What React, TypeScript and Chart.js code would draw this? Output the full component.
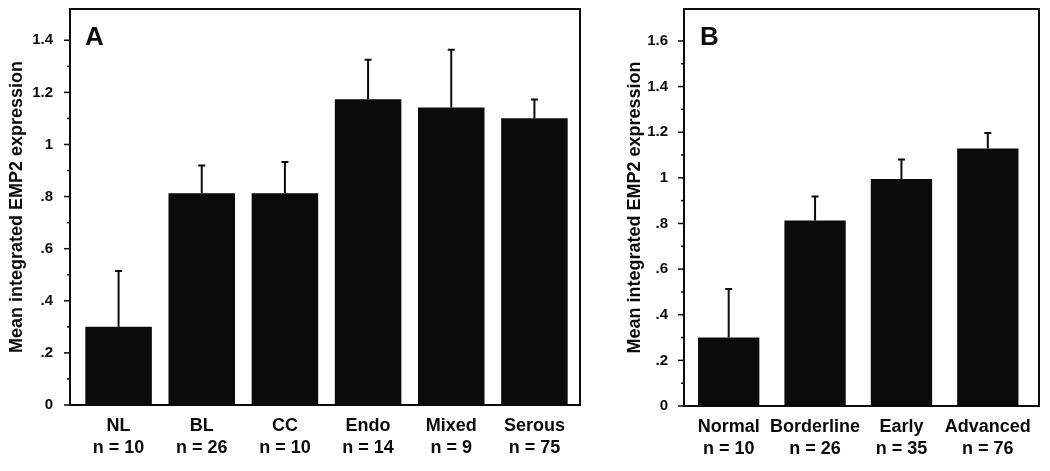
import React, { useEffect, useRef } from 'react';
import { Chart, registerables } from 'chart.js';

Chart.register(...registerables);

// ---- Data ----
const categoriesA = ['NL', 'BL', 'CC', 'Endo', 'Mixed', 'Serous'];
const countsA = [10, 26, 10, 14, 9, 75];
const meansA = [0.3, 0.813, 0.813, 1.174, 1.142, 1.101];
const errorsA = [0.214, 0.106, 0.12, 0.151, 0.222, 0.072];

const categoriesB = ['Normal', 'Borderline', 'Early', 'Advanced'];
const countsB = [10, 26, 35, 76];
const meansB = [0.3, 0.813, 0.995, 1.129];
const errorsB = [0.213, 0.105, 0.085, 0.068];

const majorTicksA = [0, 0.2, 0.4, 0.6, 0.8, 1, 1.2, 1.4];
const minorTicksA = [0.1, 0.3, 0.5, 0.7, 0.9, 1.1, 1.3];
const majorTicksB = [0, 0.2, 0.4, 0.6, 0.8, 1, 1.2, 1.4, 1.6];
const minorTicksB = [0.1, 0.3, 0.5, 0.7, 0.9, 1.1, 1.3, 1.5];

const yTitle = 'Mean integrated EMP2 expression';
const FONT = '"Liberation Sans", Arial, Helvetica, sans-serif';
const INK = '#0b0b0b';

const fmtTick = (v: number) => {
  const r = Math.round(v * 10) / 10;
  if (r === 0) return '0';
  let s = String(r);
  if (s.startsWith('0.')) s = s.slice(1);
  return s;
};

const decoPlugin = {
  id: 'panelDeco',
  afterDatasetsDraw(chart: any, _args: any, opts: any) {
    const { ctx, chartArea } = chart;
    const y = chart.scales.y;
    const meta = chart.getDatasetMeta(0);
    const means: number[] = chart.data.datasets[0].data;
    const fl = chartArea.left - opts.frameL;
    const fr = chartArea.right + opts.frameR;
    const ft = chartArea.top;
    const fb = chartArea.bottom;
    ctx.save();
    // error bars
    ctx.strokeStyle = INK;
    ctx.lineWidth = 2;
    meta.data.forEach((bar: any, i: number) => {
      const top = y.getPixelForValue(means[i] + opts.errors[i]);
      ctx.beginPath();
      ctx.moveTo(bar.x, bar.y);
      ctx.lineTo(bar.x, top);
      ctx.moveTo(bar.x - 3.5, top);
      ctx.lineTo(bar.x + 3.5, top);
      ctx.stroke();
    });
    // frame
    ctx.lineWidth = 2;
    ctx.strokeRect(fl, ft, fr - fl, fb - ft);
    // tick marks
    ctx.lineWidth = 1.5;
    opts.major.forEach((v: number) => {
      const py = y.getPixelForValue(v);
      ctx.beginPath();
      ctx.moveTo(fl - 6, py);
      ctx.lineTo(fl, py);
      ctx.stroke();
    });
    opts.minor.forEach((v: number) => {
      const py = y.getPixelForValue(v);
      ctx.beginPath();
      ctx.moveTo(fl - 3, py);
      ctx.lineTo(fl, py);
      ctx.stroke();
    });
    // panel letter
    ctx.fillStyle = INK;
    ctx.font = `bold 26px ${FONT}`;
    ctx.textAlign = 'left';
    ctx.textBaseline = 'alphabetic';
    ctx.fillText(opts.letter, fl + opts.letterDx, ft + 36);
    ctx.restore();
  },
};

function makeConfig(p: {
  categories: string[];
  counts: number[];
  means: number[];
  errors: number[];
  major: number[];
  minor: number[];
  max: number;
  letter: string;
  letterDx: number;
  axisWidth: number;
  xHeight: number;
  padLeft: number;
  padRight: number;
  barPct: number;
  labelPad: number;
  frameL: number;
  frameR: number;
}) {
  return {
    type: 'bar',
    data: {
      labels: p.categories.map((c, i) => [c, `n = ${p.counts[i]}`]),
      datasets: [
        {
          data: p.means,
          backgroundColor: INK,
          borderWidth: 0,
          barPercentage: p.barPct,
          categoryPercentage: 1,
        },
      ],
    },
    options: {
      animation: false,
      responsive: false,
      maintainAspectRatio: false,
      layout: { padding: { top: 9, right: p.padRight, left: p.padLeft, bottom: 0 } },
      plugins: {
        legend: { display: false },
        tooltip: { enabled: false },
        panelDeco: {
          errors: p.errors,
          major: p.major,
          minor: p.minor,
          letter: p.letter,
          letterDx: p.letterDx,
          frameL: p.frameL,
          frameR: p.frameR,
        },
      },
      scales: {
        x: {
          offset: true,
          grid: { display: false, drawTicks: false },
          border: { display: false },
          ticks: {
            color: INK,
            font: { family: FONT, size: 18, weight: 'bold', lineHeight: 1.17 },
            padding: 11,
            maxRotation: 0,
            autoSkip: false,
          },
          afterFit: (s: any) => {
            s.height = p.xHeight;
            s.paddingLeft = 0;
            s.paddingRight = 0;
          },
        },
        y: {
          min: 0,
          max: p.max,
          grid: { display: false, drawTicks: false },
          border: { display: false },
          afterBuildTicks: (s: any) => {
            s.ticks = p.major.map((v) => ({ value: v }));
          },
          ticks: {
            color: INK,
            font: { family: FONT, size: 15, weight: 'bold' },
            padding: p.labelPad,
            callback: (v: any) => fmtTick(Number(v)),
          },
          title: {
            display: true,
            text: yTitle,
            color: INK,
            font: { family: FONT, size: 18, weight: 'bold' },
            padding: { top: 6, bottom: 0 },
          },
          afterFit: (s: any) => {
            s.width = p.axisWidth;
            s.paddingTop = 0;
            s.paddingBottom = 0;
          },
        },
      },
    },
    plugins: [decoPlugin],
  } as any;
}

function Panel(props: { left: number; width: number; config: any }) {
  const ref = useRef<HTMLCanvasElement>(null);
  useEffect(() => {
    if (!ref.current) return;
    const chart = new Chart(ref.current, props.config);
    return () => chart.destroy();
  }, []);
  return (
    <canvas
      ref={ref}
      width={props.width}
      height={471}
      style={{ position: 'absolute', left: props.left, top: 0, width: props.width, height: 471 }}
    />
  );
}

export default function App() {
  const cfgA = makeConfig({
    categories: categoriesA,
    counts: countsA,
    means: meansA,
    errors: errorsA,
    major: majorTicksA,
    minor: minorTicksA,
    max: 1.52,
    letter: 'A',
    letterDx: 15,
    axisWidth: 77,
    xHeight: 66,
    padLeft: 0,
    padRight: 14,
    barPct: 0.8,
    labelPad: 24,
    frameL: 7,
    frameR: 4,
  });
  const cfgB = makeConfig({
    categories: categoriesB,
    counts: countsB,
    means: meansB,
    errors: errorsB,
    major: majorTicksB,
    minor: minorTicksB,
    max: 1.74,
    letter: 'B',
    letterDx: 16,
    axisWidth: 67.5,
    xHeight: 65,
    padLeft: 28,
    padRight: 19,
    barPct: 0.71,
    labelPad: 17.5,
    frameL: 1.5,
    frameR: 8,
  });
  return (
    <div style={{ position: 'absolute', left: 0, top: 0, width: 1050, height: 471, background: '#fff' }}>
      <Panel left={0} width={590} config={cfgA} />
      <Panel left={590} width={460} config={cfgB} />
    </div>
  );
}
